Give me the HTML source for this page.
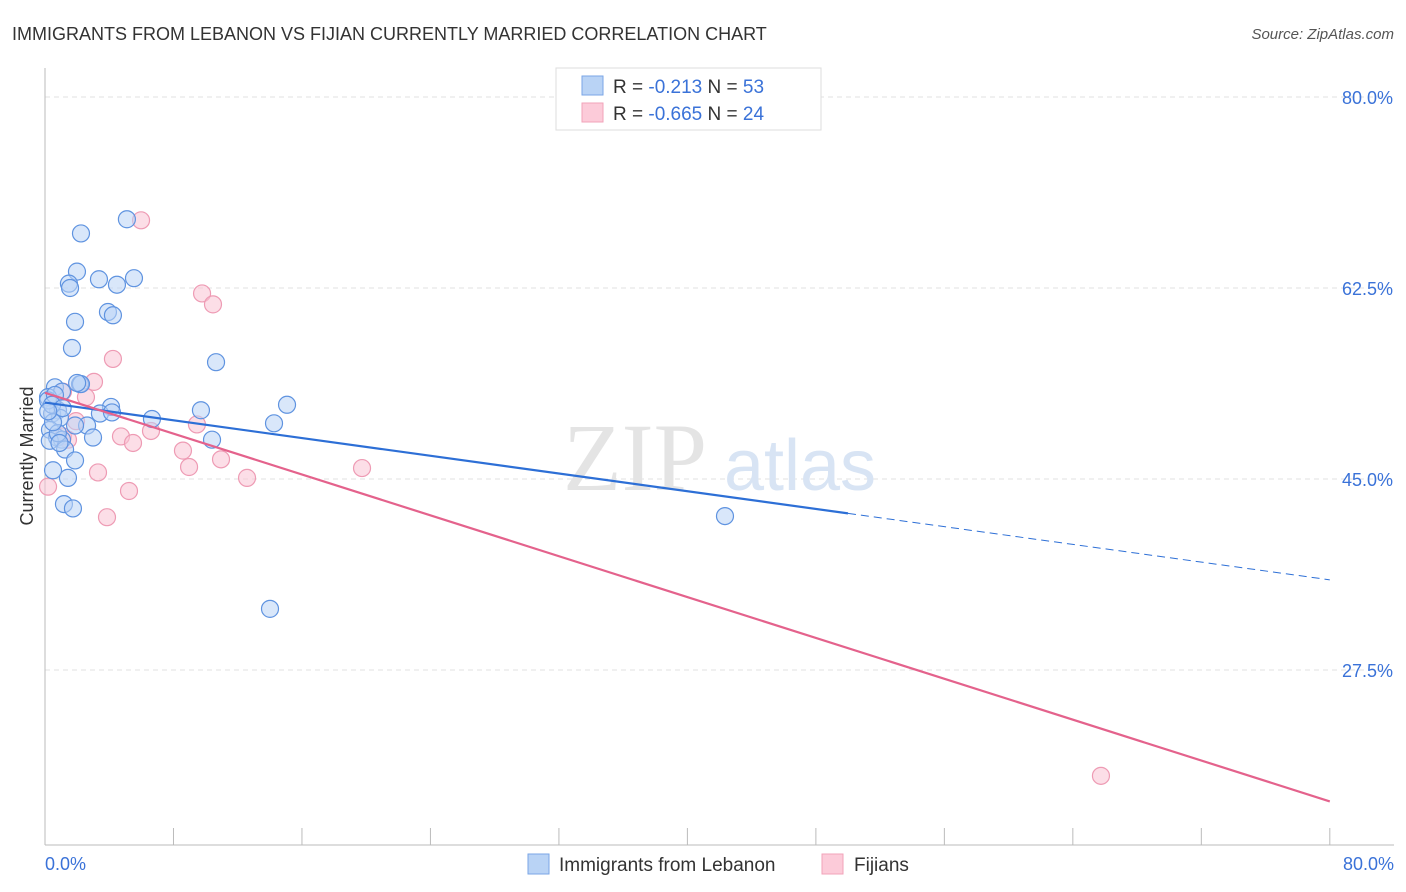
<!DOCTYPE html>
<html><head><meta charset="utf-8"><style>
body{margin:0;background:#fff;font-family:"Liberation Sans",sans-serif;}
svg{display:block}
</style></head><body>
<svg width="1406" height="892" xmlns="http://www.w3.org/2000/svg">
<text x="12" y="40" font-size="18" fill="#333">IMMIGRANTS FROM LEBANON VS FIJIAN CURRENTLY MARRIED CORRELATION CHART</text>
<text x="1394" y="39" font-size="15" fill="#555" font-style="italic" text-anchor="end">Source: ZipAtlas.com</text>
<g id="grid"></g>
<text x="635" y="490" font-size="96" fill="#e4e4e4" font-family="Liberation Serif" text-anchor="middle">ZIP</text>
<text x="800" y="490" font-size="72" fill="#d8e4f4" text-anchor="middle">atlas</text>
<line x1="45" y1="68" x2="45" y2="845" stroke="#bbb"/>
<line x1="45" y1="845" x2="1394" y2="845" stroke="#bbb"/>
<g id="xticks"></g>
<g id="ylabels"></g>
<text x="45" y="870" font-size="18" fill="#3a72d8">0.0%</text>
<text x="1394" y="870" font-size="18" fill="#3a72d8" text-anchor="end">80.0%</text>
<text transform="translate(33,456) rotate(-90)" font-size="18" fill="#333" text-anchor="middle">Currently Married</text>
<g id="points"></g>
<g id="lines"></g>
<g>
<rect x="556" y="68" width="265" height="62" fill="#fff" stroke="#ddd"/>
<rect x="582" y="76" width="21" height="19" fill="#b9d3f5" stroke="#7aa6e6"/>
<rect x="582" y="103" width="21" height="19" fill="#fccbd9" stroke="#f2a3b9"/>
<text x="613" y="93" font-size="19" fill="#333">R = <tspan fill="#3a72d8">-0.213</tspan>    N = <tspan fill="#3a72d8">53</tspan></text>
<text x="613" y="120" font-size="19" fill="#333">R = <tspan fill="#3a72d8">-0.665</tspan>    N = <tspan fill="#3a72d8">24</tspan></text>
</g>
<g>
<rect x="528" y="854" width="21" height="20" fill="#b9d3f5" stroke="#7aa6e6"/>
<text x="559" y="871" font-size="19" fill="#333">Immigrants from Lebanon</text>
<rect x="822" y="854" width="21" height="20" fill="#fccbd9" stroke="#f2a3b9"/>
<text x="854" y="871" font-size="19" fill="#333">Fijians</text>
</g>
</svg>
<script>
const yTicks=[80,62.5,45,27.5];
const yTickLabels=["80.0%","62.5%","45.0%","27.5%"];
const xTickVals=[0,8,16,24,32,40,48,56,64,72,80];
const blueX=[5.1,2.24,1.99,1.49,1.56,3.36,4.48,5.54,3.92,4.23,1.87,1.68,10.65,2.18,0.62,1.06,0.19,15.07,9.71,4.11,3.42,4.17,0.81,0.44,0.93,6.66,14.26,2.62,1.87,0.31,2.99,0.75,1.06,10.4,1.25,1.87,1.43,1.18,1.74,42.34,14.01,0.5,0.19,0.62,0.44,2.24,0.3,0.8,1.1,0.5,0.9,2.0,0.2];
const blueY=[68.8,67.5,64.0,62.9,62.5,63.3,62.8,63.4,60.3,60.0,59.4,57.0,55.7,53.7,53.4,53.0,52.5,51.8,51.3,51.6,51.0,51.1,51.3,51.0,50.6,50.5,50.1,49.9,49.9,49.5,48.8,48.8,48.6,48.6,47.7,46.7,45.1,42.7,42.3,41.6,33.1,45.8,52.2,52.7,51.8,53.7,48.5,49.2,51.5,50.2,48.3,53.8,51.2];
const pinkX=[5.98,9.78,10.46,4.23,3.05,1.12,2.55,9.46,1.93,6.6,4.73,5.48,1.12,8.59,10.96,8.97,3.3,19.74,12.58,5.23,3.86,0.19,65.75,1.43];
const pinkY=[68.7,62.0,61.0,56.0,53.9,53.0,52.5,50.0,50.3,49.4,48.9,48.3,48.9,47.6,46.8,46.1,45.6,46.0,45.1,43.9,41.5,44.3,17.8,48.6];
const blueFit=[52.0,-0.203];
const pinkFit=[52.9,-0.468];
const NS="http://www.w3.org/2000/svg";
const X=v=>45+v*16.06, Y=v=>97+(80-v)*10.914;
function mk(tag,attrs,parent){const e=document.createElementNS(NS,tag);for(const k in attrs)e.setAttribute(k,attrs[k]);document.getElementById(parent).appendChild(e);return e;}
yTicks.forEach((t,i)=>{
 const l=mk('line',{x1:45,x2:1394,y1:Y(t),y2:Y(t),stroke:'#e2e2e2','stroke-dasharray':'5,4'},'grid');
 
 
 const tx=mk('text',{x:1393,y:Y(t)+7,'font-size':18,fill:'#3a72d8','text-anchor':'end'},'ylabels');
 tx.textContent=yTickLabels[i];
 
 
});
xTickVals.forEach(v=>{
 const l=mk('line',{x1:X(v),x2:X(v),y1:828,y2:845,stroke:'#bbb'},'xticks');
 
 
});
function pts(xs,ys,fill,stroke){xs.forEach((x,i)=>{
 const c=mk('circle',{cx:X(x),cy:Y(ys[i]),r:8.5,fill:fill,'fill-opacity':0.55,stroke:stroke,'stroke-width':1.2},'points');
 
 
});}
pts(pinkX,pinkY,'#f9c3d3','#ee9bb4');
pts(blueX,blueY,'#b9d3f5','#5f93e0');
const f=(fit,x)=>fit[0]+fit[1]*x;
let l=mk('line',{x1:X(0),y1:Y(f(blueFit,0)),x2:X(50),y2:Y(f(blueFit,50)),stroke:'#2d6fd6','stroke-width':2.2},'lines');


l=mk('line',{x1:X(50),y1:Y(f(blueFit,50)),x2:X(80),y2:Y(f(blueFit,80)),stroke:'#2d6fd6','stroke-width':1,'stroke-dasharray':'8,5'},'lines');


l=mk('line',{x1:X(0),y1:Y(f(pinkFit,0)),x2:X(80),y2:Y(f(pinkFit,80)),stroke:'#e4628c','stroke-width':2.2},'lines');


</script>
</body></html>
